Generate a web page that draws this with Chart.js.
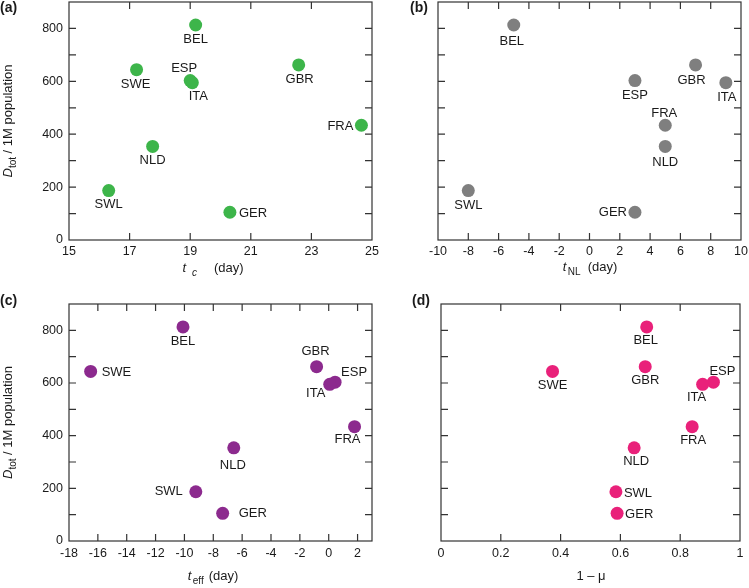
<!DOCTYPE html>
<html>
<head>
<meta charset="utf-8">
<script src="https://cdn.jsdelivr.net/npm/chart.js@4.4.1/dist/chart.umd.min.js"></script>
<style>
  html, body { margin: 0; padding: 0; background: #fff; }
  #wrap { position: relative; width: 749px; height: 588px; }
  #wrap canvas { position: absolute; left: 0; top: 0; }
</style>
</head>
<body>
<div id="wrap">
  <canvas id="cA" width="749" height="588"></canvas>
  <canvas id="cB" width="749" height="588"></canvas>
  <canvas id="cC" width="749" height="588"></canvas>
  <canvas id="cD" width="749" height="588"></canvas>
</div>
<script>
// data
const countries = ['BEL', 'SWE', 'ESP', 'ITA', 'GBR', 'FRA', 'NLD', 'SWL', 'GER'];
const deaths = [813, 644, 603, 595, 662, 434, 354, 187, 105];        // D_tot per 1M
const tc = [19.18, 17.23, 19.0, 19.07, 22.58, 24.65, 17.76, 16.31, 20.31];
const tNL = [-5, null, 3, 9, 7, 5, 5, -8, 3];                         // no SWE in (b)
const tEff = [-10.1, -16.5, 0.44, 0.07, -0.84, 1.79, -6.58, -9.21, -7.35];
const oneMinusMu = [0.688, 0.373, 0.911, 0.875, 0.683, 0.84, 0.646, 0.585, 0.589];

// axis ranges [min, max, step]
const yRange = [0, 900, 100];
const xRangeA = [15, 25, 2];
const xRangeB = [-10, 10, 2];
const xRangeC = [-18, 3, 2];
const xRangeD = [0, 1, 0.2];

const FONT = "'Liberation Sans', Arial, Helvetica, sans-serif";

// where each country name sits relative to its dot: [dx, dy, align]
const labelPos = {
  a: { BEL: [0, 14], SWE: [-1, 15], ESP: [-6, -12], ITA: [6, 14], GBR: [1, 14],
       FRA: [-8, 1, 'right'], NLD: [0, 14], SWL: [0, 14], GER: [9, 1, 'left'] },
  b: { BEL: [-2, 16], GBR: [-4, 15], ITA: [1, 15], ESP: [0, 15], FRA: [-1, -12],
       NLD: [0, 16], SWL: [0, 15], GER: [-8, 0, 'right'] },
  c: { BEL: [0, 15], SWE: [11, 1, 'left'], GBR: [-1, -15], ESP: [19, -10], ITA: [-14, 9],
       FRA: [-7, 13], NLD: [-1, 18], SWL: [-13, 0, 'right'], GER: [16, 0, 'left'] },
  d: { BEL: [-1, 14], SWE: [0, 14], GBR: [0, 14], ITA: [-6, 13], ESP: [9, -11],
       FRA: [1, 14], NLD: [2, 14], SWL: [8, 2, 'left'], GER: [8, 1, 'left'] }
};

function drawRich(ctx, parts, cx, baseY) {
  const fontOf = p => (p.it ? 'italic ' : '') + (p.sub ? '10px ' : '13px ') + FONT;
  let w = 0;
  parts.forEach(p => {
    if (p.gap) { w += p.gap; return; }
    ctx.font = fontOf(p);
    w += ctx.measureText(p.t).width;
  });
  let x = cx - w / 2;
  ctx.textAlign = 'left';
  ctx.textBaseline = 'alphabetic';
  parts.forEach(p => {
    if (p.gap) { x += p.gap; return; }
    ctx.font = fontOf(p);
    ctx.fillText(p.t, x, baseY + (p.sub ? 4 : 0));
    x += ctx.measureText(p.t).width;
  });
}

const yTitle = [{ t: 'D', it: 1 }, { t: 'tot', sub: 1 }, { t: ' / 1M population' }];

const decor = {
  id: 'decor',
  afterDraw(chart, args, o) {
    const ctx = chart.ctx;
    const a = chart.chartArea;
    const xs = chart.scales.x, ys = chart.scales.y;
    ctx.save();
    // frame and inward ticks on all four sides
    ctx.strokeStyle = '#333';
    ctx.lineWidth = 1.2;
    ctx.strokeRect(a.left, a.top, a.right - a.left, a.bottom - a.top);
    const tl = 7;
    ctx.beginPath();
    xs.ticks.forEach(t => {
      const px = xs.getPixelForValue(t.value);
      if (px <= a.left + 1 || px >= a.right - 1) return;
      ctx.moveTo(px, a.bottom); ctx.lineTo(px, a.bottom - tl);
      ctx.moveTo(px, a.top); ctx.lineTo(px, a.top + tl);
    });
    ys.ticks.forEach(t => {
      const py = ys.getPixelForValue(t.value);
      if (py <= a.top + 1 || py >= a.bottom - 1) return;
      ctx.moveTo(a.left, py); ctx.lineTo(a.left + tl, py);
      ctx.moveTo(a.right, py); ctx.lineTo(a.right - tl, py);
    });
    ctx.stroke();

    // country names
    ctx.fillStyle = '#1a1a1a';
    ctx.font = '13px ' + FONT;
    ctx.textBaseline = 'middle';
    const meta = chart.getDatasetMeta(0);
    const pts = chart.data.datasets[0].data;
    meta.data.forEach((el, i) => {
      const pos = o.pos[pts[i].name];
      if (!pos) return;
      ctx.textAlign = pos[2] || 'center';
      ctx.fillText(pts[i].name, el.x + pos[0], el.y + pos[1]);
    });

    // panel letter
    ctx.font = 'bold 14px ' + FONT;
    ctx.textAlign = 'left';
    ctx.textBaseline = 'alphabetic';
    ctx.fillText(o.letter[0], o.letter[1], o.letter[2]);

    // axis titles
    drawRich(ctx, o.xTitle, o.xTitleAt[0], o.xTitleAt[1]);
    if (o.yTitle) {
      ctx.translate(12, (a.top + a.bottom) / 2);
      ctx.rotate(-Math.PI / 2);
      drawRich(ctx, yTitle, 0, 0);
    }
    ctx.restore();
  }
};

function makePanel(id, xVals, color, area, xRange, opt) {
  const pts = countries
    .map((c, i) => ({ x: xVals[i], y: deaths[i], name: c }))
    .filter(p => p.x !== null);
  const [L, T, R, B] = area;
  const xH = 40;
  return new Chart(document.getElementById(id), {
    type: 'scatter',
    data: {
      datasets: [{
        data: pts,
        backgroundColor: color,
        borderWidth: 0,
        pointRadius: 6.5,
        pointHoverRadius: 6.5
      }]
    },
    options: {
      responsive: false,
      animation: false,
      events: [],
      layout: { autoPadding: false, padding: { left: 0, top: T, right: 749 - R, bottom: 588 - B - xH } },
      plugins: {
        legend: { display: false },
        tooltip: { enabled: false },
        decor: opt
      },
      scales: {
        x: {
          type: 'linear',
          min: xRange[0], max: xRange[1],
          grid: { display: false, drawTicks: false },
          border: { display: false },
          ticks: {
            stepSize: xRange[2], includeBounds: false, autoSkip: false, maxRotation: 0,
            padding: opt.tickPad, color: '#1a1a1a', font: { family: FONT, size: 12.5 },
            callback: v => String(Math.round(v * 10) / 10)
          },
          afterFit(s) { s.height = xH; s.paddingLeft = 0; s.paddingRight = 0; }
        },
        y: {
          type: 'linear',
          min: yRange[0], max: yRange[1],
          grid: { display: false, drawTicks: false },
          border: { display: false },
          ticks: {
            display: !!opt.yTitle,
            stepSize: yRange[2], autoSkip: false, padding: 6,
            color: '#1a1a1a', font: { family: FONT, size: 12.5 },
            callback: v => (v % 200 === 0 ? v : '')
          },
          afterFit(s) { s.width = L; s.paddingTop = 0; s.paddingBottom = 0; }
        }
      }
    },
    plugins: [decor]
  });
}

makePanel('cA', tc, '#3db54a', [69, 2, 372, 240], xRangeA, {
  pos: labelPos.a, letter: ['(a)', 0, 12], yTitle: true, tickPad: 4,
  xTitle: [{ t: 't', it: 1 }, { gap: 6 }, { t: 'c', it: 1, sub: 1 }, { gap: 17 }, { t: '(day)' }],
  xTitleAt: [213, 272]
});
makePanel('cB', tNL, '#7f7f7f', [438, 2, 741, 240], xRangeB, {
  pos: labelPos.b, letter: ['(b)', 410, 12], yTitle: false, tickPad: 4,
  xTitle: [{ t: 't', it: 1 }, { gap: 1.5 }, { t: 'NL', sub: 1 }, { gap: 7 }, { t: '(day)' }],
  xTitleAt: [590, 271]
});
makePanel('cC', tEff, '#8c2a8e', [69, 304, 372, 541], xRangeC, {
  pos: labelPos.c, letter: ['(c)', 0, 305], yTitle: true, tickPad: 5,
  xTitle: [{ t: 't', it: 1 }, { gap: 1.5 }, { t: 'eff', sub: 1 }, { gap: 5 }, { t: '(day)' }],
  xTitleAt: [213, 580]
});
makePanel('cD', oneMinusMu, '#e9217a', [441, 304, 740, 541], xRangeD, {
  pos: labelPos.d, letter: ['(d)', 412, 305], yTitle: false, tickPad: 5,
  xTitle: [{ t: '1 \u2013 \u03bc' }],
  xTitleAt: [591, 580]
});
</script>
</body>
</html>
